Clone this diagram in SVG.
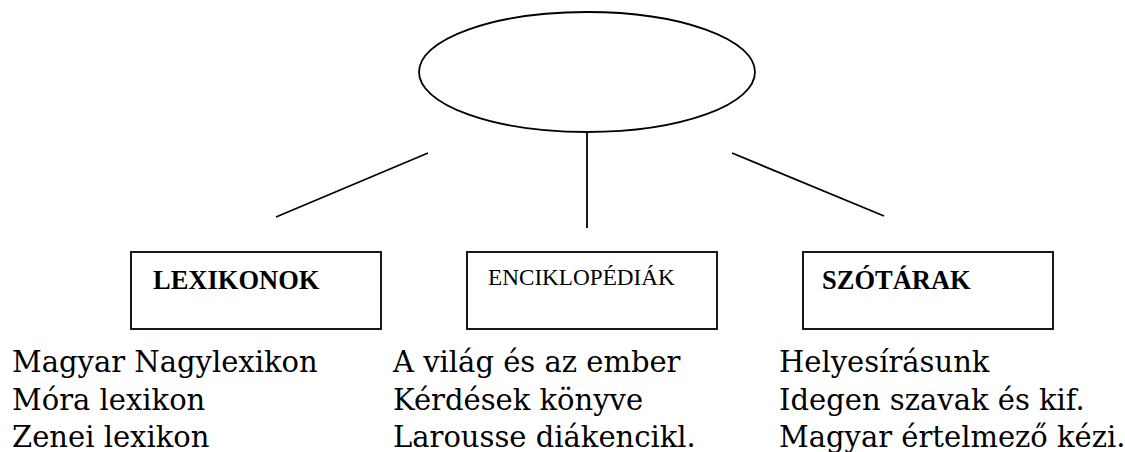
<svg xmlns="http://www.w3.org/2000/svg" width="1125" height="452" viewBox="0 0 1125 452">
<style>
.ln{stroke:#000;stroke-width:1.8;fill:none}
.box{fill:#fff;stroke:#000;stroke-width:1.8}
.hb{font-family:"Liberation Serif","Times New Roman",serif;font-weight:bold;font-size:26.5px;fill:#000}
.hr{font-family:"Liberation Serif","Times New Roman",serif;font-size:23.2px;fill:#000}
.item{font-family:"DejaVu Serif",serif;font-size:29px;fill:#000}
</style>
<rect width="1125" height="452" fill="#fff"/>
<g id="connectors" class="ln">
<line x1="428" y1="153" x2="276" y2="217"/>
<line x1="587" y1="132" x2="587" y2="228"/>
<line x1="732" y1="153" x2="884" y2="216"/>
</g>
<g id="root"><ellipse class="ln" cx="587" cy="72" rx="168" ry="60"/></g>
<g id="lexikonok"><rect class="box" x="131" y="252" width="250" height="77"/><text class="hb" x="153" y="289">LEXIKONOK</text></g>
<g id="enciklopediak"><rect class="box" x="467" y="252" width="250" height="77"/><text class="hr" x="488" y="285">ENCIKLOPÉDIÁK</text></g>
<g id="szotarak"><rect class="box" x="803" y="252" width="250" height="77"/><text class="hb" x="822" y="289">SZÓTÁRAK</text></g>
<g id="lexikonok-list" class="item">
<text x="12" y="372">Magyar Nagylexikon</text>
<text x="12" y="410">Móra lexikon</text>
<text x="12" y="447">Zenei lexikon</text>
</g>
<g id="enciklopediak-list" class="item">
<text x="393" y="372">A világ és az ember</text>
<text x="393" y="410">Kérdések könyve</text>
<text x="393" y="447">Larousse diákencikl.</text>
</g>
<g id="szotarak-list" class="item">
<text x="779" y="372">Helyesírásunk</text>
<text x="779" y="410">Idegen szavak és kif.</text>
<text x="779" y="447">Magyar értelmező kézi.</text>
</g>
</svg>
